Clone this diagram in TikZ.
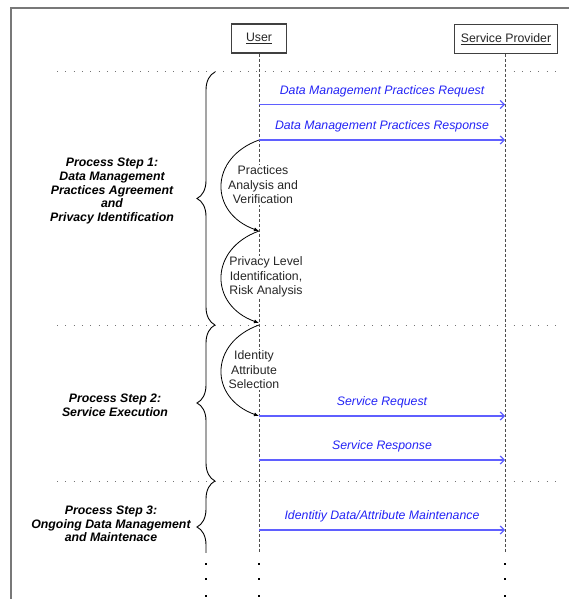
\documentclass[tikz,border=0pt]{standalone}
\usepackage{fontspec}
\setmainfont{Liberation Sans}
\usetikzlibrary{arrows.meta,decorations.pathreplacing}

\definecolor{msgtext}{RGB}{35,35,245}
\definecolor{msgline}{RGB}{95,95,255}
\definecolor{framegray}{RGB}{120,120,120}

\begin{document}
\begin{tikzpicture}[x=1pt,y=-1pt,
  every node/.style={font=\fontsize{12.3}{14.5}\selectfont},
  actor/.style={draw=black!75, line width=1.1pt, minimum height=29pt, inner sep=0pt, fill=white, text=black!85},
  lifeline/.style={draw=black!70, line width=0.8pt, dash pattern=on 3pt off 2pt},
  phase/.style={draw=black!55, line width=1pt, dash pattern=on 1pt off 7.3pt},
  msg/.style={draw=msgline, line width=1.2pt, -{Straight Barb[length=4pt,width=8pt]}},
  msglabel/.style={text=msgtext, font=\fontsize{12.3}{14.5}\selectfont\itshape},
  activity/.style={draw=black, line width=0.8pt, -{Latex[length=5pt,width=4pt]}},
  activitylabel/.style={fill=white, inner sep=1pt, align=center, text=black!85},
  steplabel/.style={align=center, font=\fontsize{12.3}{13.7}\selectfont\bfseries\itshape},
  stepbrace/.style={draw=black, line width=0.9pt, decorate, decoration={brace, amplitude=18pt, aspect=0.5}},
  dotmark/.style={fill=black, minimum size=2pt, inner sep=0pt}
]
\useasboundingbox (0,0) rectangle (569,599);

% outer frame
\draw[framegray, line width=2pt] (11,599) -- (11,8) -- (569,8);

% actors
\node[actor, minimum width=55pt] (user) at (259,38.5) {\underline{User}};
\node[actor, minimum width=103pt] (sp) at (506,39) {\underline{Service Provider}};

% lifeline ends
\coordinate (userEnd) at (259,552);
\coordinate (spEnd) at (505,552);
\draw[lifeline] (user.south) -- (userEnd);
\draw[lifeline] (sp.south -| spEnd) -- (spEnd);

% phase separators
\coordinate (p1L) at (57,72);  \coordinate (p1R) at (556,72);
\coordinate (p2L) at (57,325); \coordinate (p2R) at (556,325);
\coordinate (p3L) at (57,481); \coordinate (p3R) at (556,481);
\draw[phase] (p1L) -- (p1R);
\draw[phase] (p2L) -- (p2R);
\draw[phase] (p3L) -- (p3R);

% message anchor points on the lifelines
\coordinate (u1) at (259,104.5); \coordinate (s1) at (505,104.5);
\coordinate (u2) at (259,140);   \coordinate (s2) at (505,140);
\coordinate (u3) at (259,231);
\coordinate (u4) at (259,323);
\coordinate (u5) at (259,416);   \coordinate (s5) at (505,416);
\coordinate (u6) at (259,460);   \coordinate (s6) at (505,460);
\coordinate (u7) at (259,530);   \coordinate (s7) at (505,530);
\coordinate (u4s) at (259,325);

% messages
\draw[msg] (u1) -- node[msglabel, above=4pt] (m1) {Data Management Practices Request} (s1);
\draw[msg] (u2) -- node[msglabel, above=4pt] (m2) {Data Management Practices Response} (s2);
\draw[msg] (u5) -- node[msglabel, above=4pt] (m5) {Service Request} (s5);
\draw[msg] (u6) -- node[msglabel, above=4pt] (m6) {Service Response} (s6);
\draw[msg] (u7) -- node[msglabel, above=4pt] (m7) {Identitiy Data/Attribute Maintenance} (s7);

% local activities of the user
\draw[activity] (u2) .. controls (209,158) and (209,213) .. (u3);
\draw[activity] (u3) .. controls (209,249) and (209,305) .. (u4);
\draw[activity] (u4s) .. controls (209,343) and (209,398) .. (u5);

\node[activitylabel] (a1) at (263,185) {Practices\\Analysis and\\Verification};
\node[activitylabel] (a2) at (266,277) {Privacy Level\\Identification,\\Risk Analysis};
\node[activitylabel] (a3) at (254,370) {Identity\\Attribute\\Selection};

% process step braces
\draw[stepbrace] (215,325) -- (215,72);
\draw[stepbrace] (215,481) -- (215,325);
\begin{scope}
  \clip (150,470) rectangle (260,552);
  \draw[stepbrace] (215,573) -- (215,481);
\end{scope}

% process step labels
\node[steplabel] (st1) at (112,191) {Process Step 1:\\Data Management\\Practices Agreement\\and\\Privacy Identification};
\node[steplabel] (st2) at (115,405) {Process Step 2:\\Service Execution};
\node[steplabel] (st3) at (111,524) {Process Step 3:\\Ongoing Data Management\\and Maintenace};

% continuation dots
\foreach \x/\n in {206/b, 259/u, 505/s}
  \foreach \y/\k in {564/1, 579/2, 596/3}
    \node[dotmark] (dot\n\k) at (\x,\y) {};
\end{tikzpicture}
\end{document}
